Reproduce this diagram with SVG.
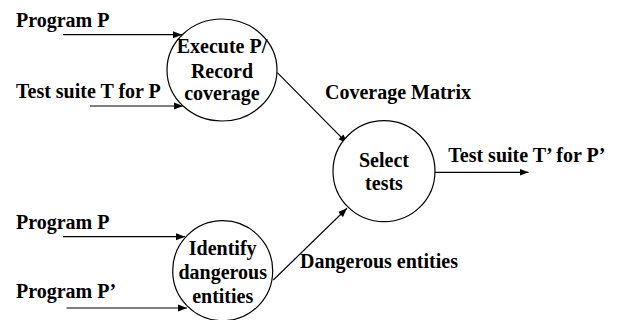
<svg xmlns="http://www.w3.org/2000/svg" width="618" height="320" viewBox="0 0 618 320">
<style>
text{font-family:"Liberation Serif","Times New Roman",serif;font-weight:bold;font-size:20px;fill:#000}
.c{text-anchor:middle}
.n{fill:#fff;stroke:#000;stroke-width:1.2}
.e{stroke:#000;stroke-width:1.2;fill:none;marker-end:url(#ah)}
</style>
<defs>
<marker id="ah" markerUnits="userSpaceOnUse" markerWidth="10" markerHeight="8" refX="9" refY="4" orient="auto">
<path d="M0,0.5 L9,4 L0,7.5 Z" fill="#000"/>
</marker>
</defs>
<rect width="618" height="320" fill="#fff"/>
<g id="connectors">
<line class="e" x1="63" y1="34.7" x2="182" y2="34.7"/>
<line class="e" x1="90" y1="106" x2="183" y2="106"/>
<line class="e" x1="277.3" y1="72.7" x2="347.3" y2="143.3"/>
<line class="e" x1="63" y1="236.7" x2="185" y2="236.7"/>
<line class="e" x1="66.5" y1="308" x2="187" y2="308"/>
<line class="e" x1="273.3" y1="280" x2="347" y2="208.3"/>
<line class="e" x1="435" y1="172.3" x2="528.5" y2="172.3"/>
</g>
<g id="labels">
<text x="16" y="26.7">Program P</text>
<text x="16" y="98.3">Test suite T for P</text>
<text x="325" y="99.3">Coverage Matrix</text>
<text x="448.3" y="161.7">Test suite T’ for P’</text>
<text x="16" y="229.3">Program P</text>
<text x="16" y="298.3">Program P’</text>
<text x="300" y="268.3">Dangerous entities</text>
</g>
<g id="execute">
<ellipse class="n" cx="222" cy="70" rx="55" ry="51"/>
<text class="c" x="222" y="53.3">Execute P/</text>
<text class="c" x="222" y="78.3">Record</text>
<text class="c" x="222" y="100">coverage</text>
</g>
<g id="select">
<ellipse class="n" cx="384" cy="171.2" rx="51" ry="50.5"/>
<text class="c" x="384" y="167.3">Select</text>
<text class="c" x="384" y="190">tests</text>
</g>
<g id="identify">
<ellipse class="n" cx="222.7" cy="270.7" rx="50" ry="50"/>
<text class="c" x="222.7" y="255">Identify</text>
<text class="c" x="222.7" y="279">dangerous</text>
<text class="c" x="222.7" y="302.7">entities</text>
</g>
</svg>
